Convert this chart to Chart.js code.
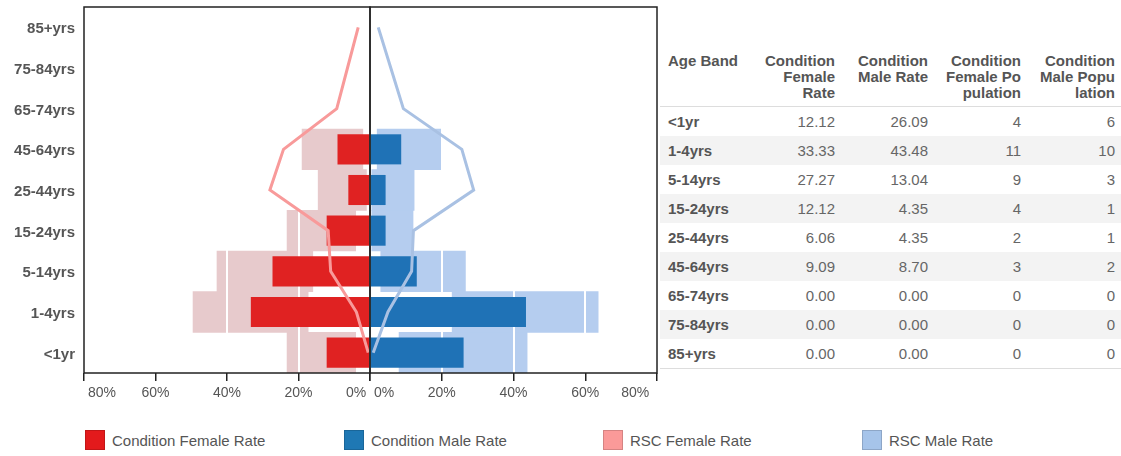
<!DOCTYPE html>
<html>
<head>
<meta charset="utf-8">
<script src="https://cdn.jsdelivr.net/npm/chart.js@4"></script>
<style>
	body {
		margin: 0;
		width: 1121px;
		height: 456px;
		background: #fff;
		font-family: "Liberation Sans", Arial, sans-serif;
		overflow: hidden;
		position: relative;
	}

	#female-chart { position: absolute; left: 0; top: 0; }
	#male-chart { position: absolute; left: 360px; top: 0; }

	#data-table {
		position: absolute;
		left: 660px;
		top: 50px;
		width: 461px;
		border-collapse: collapse;
		table-layout: fixed;
		font-size: 15px;
		color: #666;
	}

	#data-table th {
		font-weight: bold;
		color: #555;
		text-align: right;
		vertical-align: top;
		line-height: 16px;
		padding: 3px 6px 5px 0;
		white-space: nowrap;
		border-bottom: 1px solid #ddd;
	}

	#data-table td {
		height: 29px;
		padding: 0 6px 0 0;
		text-align: right;
		white-space: nowrap;
	}

	#data-table th.band,
	#data-table td.band {
		text-align: left;
		padding-left: 8px;
	}

	#data-table td.band {
		font-weight: bold;
		color: #555;
	}

	#data-table tbody tr:nth-child(even) td { background: #f3f3f3; }
	#data-table tbody tr:last-child td { border-bottom: 1px solid #ddd; }

	#legend {
		position: absolute;
		left: 0;
		top: 430px;
		height: 22px;
	}

	.legend-item {
		position: absolute;
		top: 0;
		display: flex;
		align-items: center;
		white-space: nowrap;
		font-size: 15px;
		color: #555;
	}

	.legend-swatch {
		width: 20px;
		height: 20px;
		margin-right: 7px;
		box-sizing: border-box;
		border: 1px solid rgba(0, 0, 0, 0.15);
	}
</style>
</head>
<body>
<canvas id="female-chart" width="380" height="410"></canvas>
<canvas id="male-chart" width="300" height="410"></canvas>

<table id="data-table">
	<colgroup>
		<col style="width: 100px">
		<col style="width: 81px">
		<col style="width: 93px">
		<col style="width: 93px">
		<col style="width: 94px">
	</colgroup>
	<thead>
		<tr>
			<th class="band">Age Band</th>
			<th>Condition<br>Female<br>Rate</th>
			<th>Condition<br>Male Rate</th>
			<th>Condition<br>Female Po<br>pulation</th>
			<th>Condition<br>Male Popu<br>lation</th>
		</tr>
	</thead>
	<tbody></tbody>
</table>

<div id="legend"></div>

<script>
// Age bands, youngest first (the chart draws them bottom-up)
const age_bands = ["<1yr", "1-4yrs", "5-14yrs", "15-24yrs", "25-44yrs", "45-64yrs", "65-74yrs", "75-84yrs", "85+yrs"]

const female_rate = [12.12, 33.33, 27.27, 12.12, 6.06, 9.09, 0, 0, 0]
const male_rate = [26.09, 43.48, 13.04, 4.35, 4.35, 8.70, 0, 0, 0]
const female_population = [4, 11, 9, 4, 2, 3, 0, 0, 0]
const male_population = [6, 10, 3, 1, 1, 2, 0, 0, 0]

// RSC comparison lines
const rsc_female_rate = [0.5, 3.8, 11, 11.7, 28, 24.2, 9.3, 6.3, 3.3]
const rsc_male_rate = [0.9, 5, 11.6, 12.1, 28.9, 25.6, 9.3, 5.8, 2.3]

// Pale range bands behind the bars
const female_band_low = [4, 17.3, 16, 4, 1, 2, null, null, null]
const female_band_high = [23.2, 49.5, 42.8, 23.2, 14.5, 19, null, null, null]
const male_band_low = [8.1, 22.9, 3, 0.5, 0.5, 2, null, null, null]
const male_band_high = [43.8, 63.6, 26.6, 12, 12.3, 19.9, null, null, null]

const x_ticks = [0, 20, 40, 60, 80]
const legend_labels = ["Condition Female Rate", "Condition Male Rate", "RSC Female Rate", "RSC Male Rate"]
const legend_colors = ["#e31a1c", "#1f78b4", "#fb9a99", "#a6c4ea"]

const COLORS = {
	female_bar: "#e02222",
	male_bar: "#1f72b6",
	female_band: "#e7cacc",
	male_band: "#b5cdef",
	female_line: "#f89a9a",
	male_line: "#a9c1e3",
	text: "#555",
	frame: "#222"
}

/**
 * White grid lines over the pale bands, plus the black frame
 */
const frame_plugin = {
	id: "frame",
	beforeDatasetDraw(chart, args) {
		if (chart.data.datasets[args.index].kind !== "rate") {
			return
		}

		const { ctx, chartArea } = chart
		const x_scale = chart.scales.x

		ctx.save()
		ctx.strokeStyle = "#fff"
		ctx.lineWidth = 2
		x_ticks.slice(1, -1).forEach(value => {
			const x = Math.round(x_scale.getPixelForValue(value))
			ctx.beginPath()
			ctx.moveTo(x, chartArea.top)
			ctx.lineTo(x, chartArea.bottom)
			ctx.stroke()
		})
		ctx.restore()
	},
	afterDatasetsDraw(chart) {
		const { ctx, chartArea } = chart

		ctx.save()
		ctx.strokeStyle = COLORS.frame
		ctx.lineWidth = 1.5
		ctx.strokeRect(chartArea.left, chartArea.top, chartArea.right - chartArea.left, chartArea.bottom - chartArea.top)
		ctx.restore()
	}
}

function make_bands(low, high) {
	return low.map((value, i) => value === null ? null : [value, high[i]])
}

/**
 * Tick text, nudged off the centre line and the outer frame
 * @param {number} value - Tick value
 * @param {boolean} is_female - Left (reversed) half
 */
function tick_label(value, is_female) {
	const text = value + "%"

	if (value === 0) {
		return is_female ? text + " " : " " + text
	}

	if (value === 80) {
		return is_female ? " " + text : text + "  "
	}

	return text
}

/**
 * Build one half of the pyramid
 * @param {string} canvas_id - Canvas element ID
 * @param {string} side - "female" or "male"
 */
function render_half(canvas_id, side) {
	const is_female = side === "female"

	const datasets = [
		{
			type: "bar",
			label: is_female ? "RSC Female Band" : "RSC Male Band",
			data: is_female ? make_bands(female_band_low, female_band_high) : make_bands(male_band_low, male_band_high),
			backgroundColor: is_female ? COLORS.female_band : COLORS.male_band,
			barPercentage: 1,
			categoryPercentage: 1,
			grouped: false,
			order: 3
		},
		{
			type: "bar",
			kind: "rate",
			label: is_female ? "Condition Female Rate" : "Condition Male Rate",
			data: is_female ? female_rate : male_rate,
			backgroundColor: is_female ? COLORS.female_bar : COLORS.male_bar,
			barPercentage: 0.74,
			categoryPercentage: 1,
			grouped: false,
			order: 2
		},
		{
			type: "line",
			indexAxis: "y",
			label: is_female ? "RSC Female Rate" : "RSC Male Rate",
			data: is_female ? rsc_female_rate : rsc_male_rate,
			borderColor: is_female ? COLORS.female_line : COLORS.male_line,
			borderWidth: 3,
			pointRadius: 0,
			tension: 0,
			order: 1
		}
	]

	new Chart(document.getElementById(canvas_id), {
		type: "bar",
		data: {
			labels: age_bands,
			datasets
		},
		options: {
			indexAxis: "y",
			responsive: false,
			animation: false,
			layout: {
				padding: is_female
					? { top: 7, right: 10, left: 0, bottom: 0 }
					: { top: 7, right: 3, left: 10, bottom: 0 }
			},
			plugins: {
				legend: { display: false },
				tooltip: { enabled: false }
			},
			scales: {
				x: {
					type: "linear",
					min: 0,
					max: 80,
					reverse: is_female,
					afterBuildTicks(scale) {
						scale.ticks = x_ticks.map(value => ({ value }))
					},
					afterFit(scale) {
						scale.height = 37
						scale.paddingLeft = 0
						scale.paddingRight = 0
					},
					grid: {
						drawOnChartArea: false,
						tickLength: 8,
						color: COLORS.frame,
						lineWidth: 1.5
					},
					border: { display: false },
					ticks: {
						align: "inner",
						padding: 4,
						color: COLORS.text,
						font: { family: "Liberation Sans", size: 14 },
						maxRotation: 0,
						callback: value => tick_label(value, is_female)
					}
				},
				y: {
					display: is_female,
					reverse: true,
					afterFit(scale) {
						scale.width = is_female ? 84 : 0
						scale.paddingTop = 0
						scale.paddingBottom = 0
					},
					grid: { display: false, drawTicks: false },
					border: { display: false },
					ticks: {
						padding: 9,
						labelOffset: 2,
						color: COLORS.text,
						font: { family: "Liberation Sans", size: 15, weight: "bold" }
					}
				}
			}
		},
		plugins: [frame_plugin]
	})
}

render_half("female-chart", "female")
render_half("male-chart", "male")

// Table rows
const tbody = document.querySelector("#data-table tbody")
age_bands.forEach((band, i) => {
	const row = document.createElement("tr")
	const cells = [
		band,
		female_rate[i].toFixed(2),
		male_rate[i].toFixed(2),
		female_population[i],
		male_population[i]
	]
	cells.forEach((text, j) => {
		const cell = document.createElement("td")
		if (j === 0) {
			cell.className = "band"
		}
		cell.textContent = text
		row.appendChild(cell)
	})
	tbody.appendChild(row)
})

// Legend
const legend = document.getElementById("legend")
legend_labels.forEach((label, i) => {
	const item = document.createElement("div")
	item.className = "legend-item"
	item.style.left = (85 + i * 259) + "px"

	const swatch = document.createElement("span")
	swatch.className = "legend-swatch"
	swatch.style.background = legend_colors[i]

	item.appendChild(swatch)
	item.appendChild(document.createTextNode(label))
	legend.appendChild(item)
})
</script>
</body>
</html>
